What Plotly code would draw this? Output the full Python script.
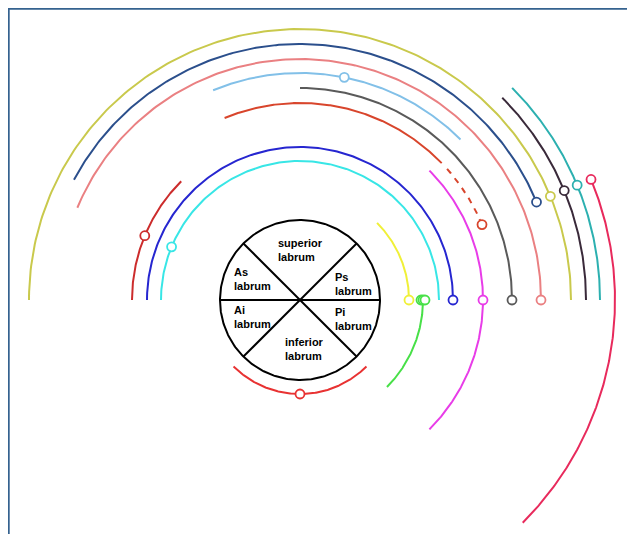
import numpy as np
import plotly.graph_objects as go

# ---- data -------------------------------------------------------------
arc_names   = ["olive", "darkblue", "salmon", "lightblue", "gray", "orangered", "orangered_dash",
               "magenta", "redleft", "blue", "cyan", "green", "yellow", "redbottom",
               "darkpurple", "teal", "crimson"]
arc_radius  = [271, 256, 241, 227, 212, 197, 197, 183, 168, 153, 139, 123, 109, 94, 286, 300, 315]
arc_start   = [0, 22.5, 0, 45, 0, 44, 22.5, -45, 135, 0, 0, -45, 0, -135, 0, 0, -45]
arc_end     = [180, 152, 157.5, 112.5, 90, 112.5, 42, 45, 180, 180, 180, 0, 45, -45, 45, 45, 22.5]
arc_dash    = ["solid"] * 6 + ["6px,6px"] + ["solid"] * 10
arc_colors  = ["#C9C94C", "#2B4F8C", "#EA8082", "#82C0E8", "#5A5A5A", "#D8452C", "#D8452C",
               "#E83CE8", "#CC2C2C", "#2626D0", "#38E6E6", "#48E048", "#F0F038", "#E83232",
               "#3A2A3A", "#2CB0B0", "#E82A5C"]
# markers: (arc index, angle, radius offset)
marker_arc    = [0, 1, 2, 3, 4, 6, 7, 8, 9, 10, 11, 11, 11, 12, 13, 14, 15, 16]
marker_angle  = [22.5, 22.5, 0, 78.75, 0, 22.5, 0, 157.5, 0, 157.5, 0, 0, 0, 0, -90, 22.5, 22.5, 22.5]
marker_offset = [0, 0, 0, 0, 0, 0, 0, 0, 0, 0, -2, 0, 2, 0, 0, 0, 0, 0]

sector_lines = [0, 45, 135]          # diameters through the centre
circle_radius = 80
labels      = ["superior<br>labrum", "As<br>labrum", "Ps<br>labrum",
               "Ai<br>labrum", "Pi<br>labrum", "inferior<br>labrum"]
label_x     = [-24, -68, 33, -68, 33, -17]
label_y     = [50, 21.5, 16.5, -17, -18.5, -48.5]

# ---- figure -----------------------------------------------------------
fig = go.Figure()

for r, a0, a1, c, d in zip(arc_radius, arc_start, arc_end, arc_colors, arc_dash):
    t = np.radians(np.linspace(a0, a1, 200))
    fig.add_trace(go.Scatter(x=r * np.cos(t), y=r * np.sin(t), mode="lines",
                             line=dict(color=c, width=2, dash=d),
                             hoverinfo="skip", showlegend=False))

# central circle and sector lines
t = np.radians(np.linspace(0, 360, 361))
fig.add_trace(go.Scatter(x=circle_radius * np.cos(t), y=circle_radius * np.sin(t), mode="lines",
                         line=dict(color="black", width=2), hoverinfo="skip", showlegend=False))
for a in sector_lines:
    ar = np.radians(a)
    fig.add_trace(go.Scatter(x=[-circle_radius * np.cos(ar), circle_radius * np.cos(ar)],
                             y=[-circle_radius * np.sin(ar), circle_radius * np.sin(ar)],
                             mode="lines", line=dict(color="black", width=2),
                             hoverinfo="skip", showlegend=False))

# markers
for i, ang, off in zip(marker_arc, marker_angle, marker_offset):
    r = arc_radius[i] + off
    ar = np.radians(ang)
    fig.add_trace(go.Scatter(x=[r * np.cos(ar)], y=[r * np.sin(ar)], mode="markers",
                             marker=dict(symbol="circle", size=9, color="white",
                                         line=dict(color=arc_colors[i], width=1.8)),
                             hoverinfo="skip", showlegend=False))

for txt, lx, ly in zip(labels, label_x, label_y):
    fig.add_annotation(x=lx, y=ly, text="<b>" + txt + "</b>", showarrow=False,
                       xanchor="left", yanchor="middle", align="left",
                       font=dict(family="Liberation Sans, Arial", size=11, color="black"))

# frame (top and left edges visible)
fig.add_shape(type="rect", x0=-291.2, x1=360, y0=-260, y1=291.2,
              line=dict(color="#35628F", width=1.8), layer="below")

fig.update_layout(width=627, height=526, autosize=False,
                  margin=dict(l=0, r=0, t=0, b=0),
                  paper_bgcolor="white", plot_bgcolor="white",
                  xaxis=dict(range=[-292, 335], visible=False, fixedrange=True),
                  yaxis=dict(range=[-234, 292], visible=False, fixedrange=True))

fig.write_html("out.html")
